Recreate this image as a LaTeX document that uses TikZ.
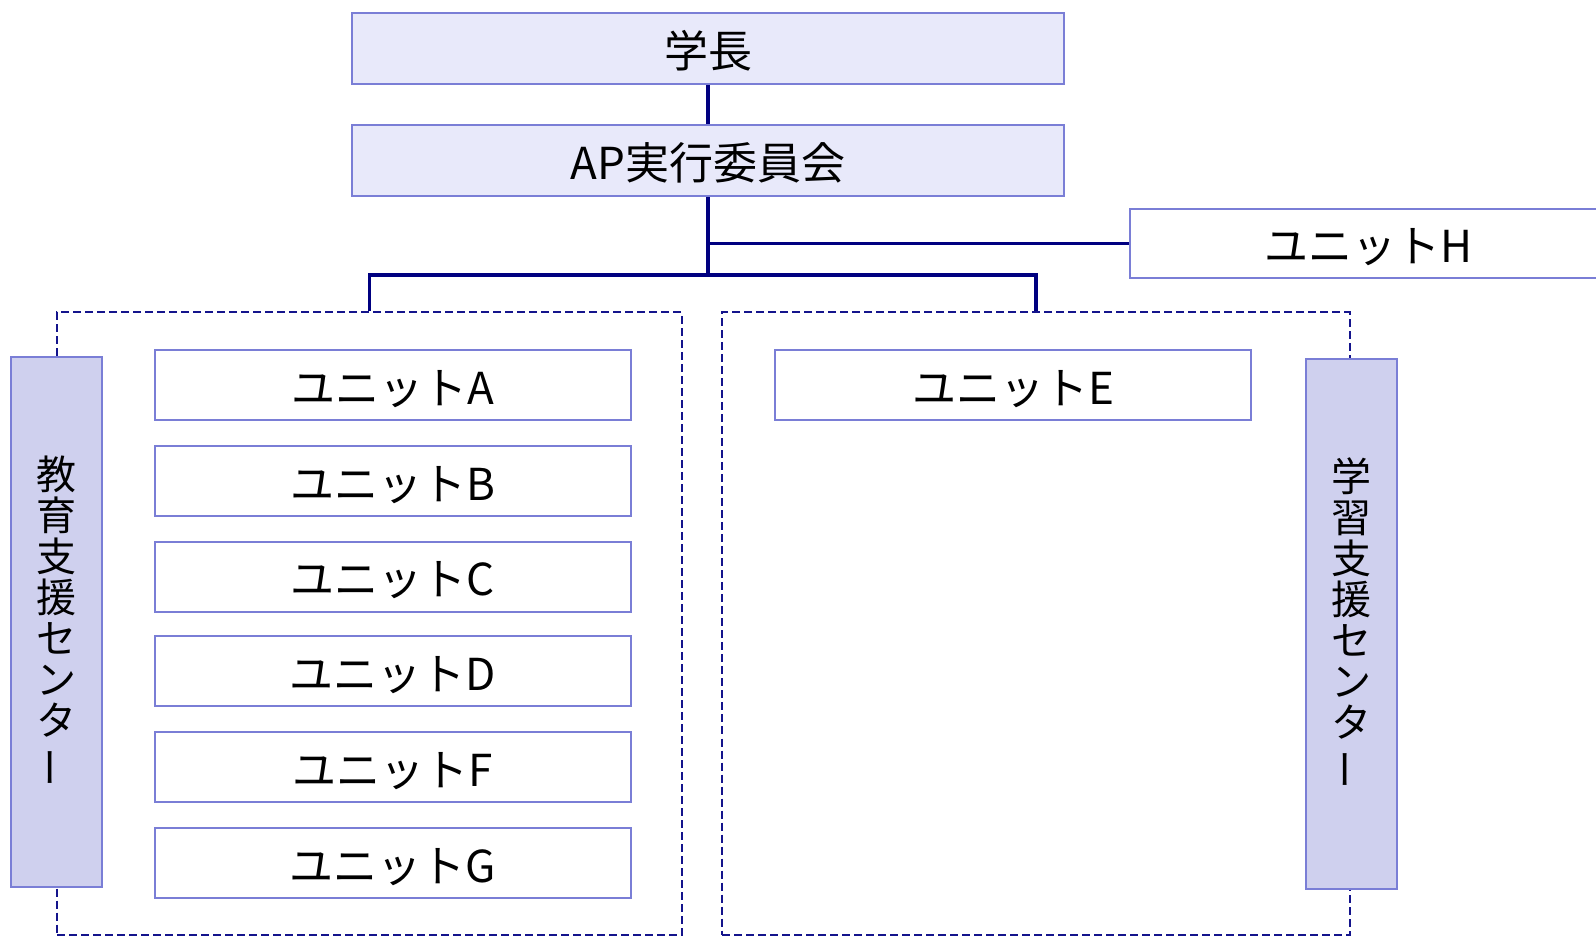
\documentclass[tikz,border=0pt]{standalone}
\usepackage{fontspec}
\setmainfont{Noto Sans CJK JP}
\definecolor{bordc}{RGB}{122,126,214}
\definecolor{topfill}{RGB}{232,233,250}
\definecolor{sidefill}{RGB}{207,208,238}
\definecolor{navyc}{RGB}{0,0,128}
\definecolor{dashc}{RGB}{20,20,140}
\tikzset{
  topbox/.style={draw=bordc, fill=topfill, line width=1pt, minimum width=356pt, minimum height=35.5pt, inner sep=0pt, text height=21pt, text depth=2pt, font=\fontsize{22pt}{26pt}\selectfont},
  unitbox/.style={draw=bordc, fill=white, line width=1pt, minimum width=238pt, minimum height=35pt, inner sep=0pt, text height=21pt, text depth=2pt, font=\fontsize{22pt}{26pt}\selectfont},
  sidebox/.style={draw=bordc, fill=sidefill, line width=1pt, minimum width=45.5pt, minimum height=265pt, inner sep=0pt, align=center, font=\fontsize{20pt}{20.5pt}\selectfont},
  groupbox/.style={draw=dashc, line width=1pt, dash pattern=on 4pt off 2pt, minimum height=311pt, inner sep=0pt},
  conn/.style={draw=navyc, line width=1.75pt}
}
\newcommand{\vbar}{\rotatebox[origin=c]{90}{ー}}
\begin{document}
\begin{tikzpicture}[x=0.5pt, y=-0.5pt]
\clip (0,0) rectangle (1596,936);
\fill[white] (0,0) rectangle (1596,936);
% groups
\node[groupbox, minimum width=312.5pt] (groupL) at (369.5,623.5) {};
\node[groupbox, minimum width=314pt] (groupR) at (1036,623.5) {};
% top
\node[topbox] (pres) at (708,48.5) {学長};
\node[topbox] (ap) at (708,161) {AP実行委員会};
\node[unitbox, minimum width=239pt, minimum height=34.5pt] (uH) at (1369,243.5) {ユニットH};
% side boxes
\node[sidebox] (sideL) at (56.5,622) {教\\育\\支\\援\\セ\\ン\\タ\\\vbar};
\node[sidebox] (sideR) at (1351.5,623.5) {学\\習\\支\\援\\セ\\ン\\タ\\\vbar};
% units
\node[unitbox] (uA) at (393,385) {ユニットA};
\node[unitbox] (uB) at (393,481) {ユニットB};
\node[unitbox] (uC) at (393,576.5) {ユニットC};
\node[unitbox] (uD) at (393,671) {ユニットD};
\node[unitbox] (uF) at (393,767) {ユニットF};
\node[unitbox] (uG) at (393,863) {ユニットG};
\node[unitbox] (uE) at (1013,385) {ユニットE};
% connectors
\coordinate (j) at (ap.south |- 0,275);
\draw[conn] (pres.south) -- (ap.north);
\draw[conn] (ap.south) -- (j);
\draw[conn] (uH.west) -- (uH.west -| ap.south);
\draw[conn] (groupL.north) |- (j) -| (groupR.north);
\end{tikzpicture}
\end{document}
